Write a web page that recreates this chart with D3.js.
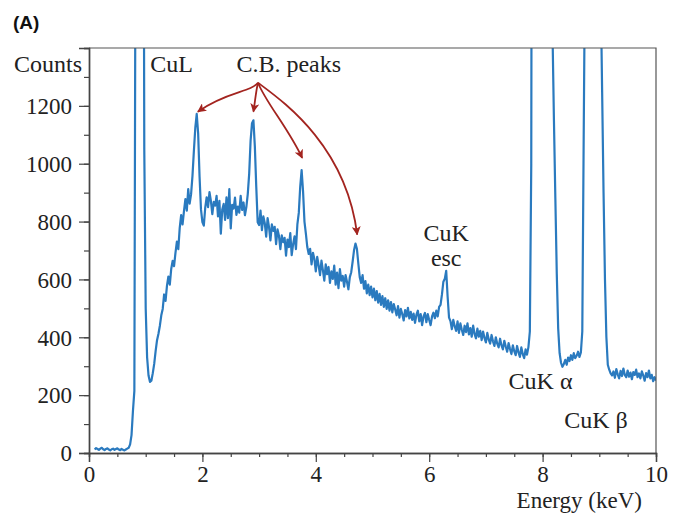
<!DOCTYPE html>
<html>
<head>
<meta charset="utf-8">
<script src="https://cdn.jsdelivr.net/npm/d3@7"></script>
<style>
  html, body { margin: 0; padding: 0; background: #fff; }
  svg { display: block; }
  .serif { font-family: "Liberation Serif", "Times New Roman", serif; fill: #222; }
</style>
</head>
<body>
<svg id="chart" width="677" height="514"></svg>
<script>
// EDS spectrum: counts per 0.025 keV channel, first channel at 0.1 keV
const channelStart = 0.1;
const channelWidth = 0.025;
const counts = [
  12, 17, 14, 11, 15, 18, 13, 10,          // 0.100
  14, 16, 12, 9, 13, 15, 11, 14,           // 0.300
  16, 12, 10, 14, 11, 9, 12, 15,           // 0.500
  18, 30, 62, 145, 215, 2200, 5600, 7200,  // 0.700
  7600, 6800, 3200, 1050, 500, 330, 268, 246, // 0.900
  250, 276, 308, 352, 390, 412, 440, 476,  // 1.100
  498, 548, 526, 578, 610, 582, 636, 664,  // 1.300
  646, 692, 731, 705, 778, 822, 790, 836,  // 1.500
  878, 838, 912, 862, 894, 958, 1045, 1125, // 1.700
  1172, 1105, 955, 842, 798, 786, 848, 884, // 1.900
  850, 902, 871, 826, 868, 855, 889, 818,  // 2.100
  872, 758, 842, 861, 806, 884, 812, 912,  // 2.300
  776, 858, 845, 883, 823, 852, 831, 889,  // 2.500
  840, 866, 822, 850, 895, 965, 1080, 1140, // 2.700
  1150, 1060, 920, 798, 788, 838, 770, 818, // 2.900
  795, 748, 812, 781, 735, 790, 768, 782,  // 3.100
  722, 773, 751, 705, 752, 729, 744, 682,  // 3.300
  738, 712, 760, 684, 722, 749, 705, 790,  // 3.500
  830, 920, 978, 905, 800, 758, 712, 688,  // 3.700
  706, 652, 692, 671, 628, 678, 648, 615,  // 3.900
  665, 632, 596, 652, 618, 643, 588, 628,  // 4.100
  602, 648, 582, 624, 570, 636, 596, 612,  // 4.300
  575, 615, 592, 566, 608, 625, 662, 702,  // 4.500
  724, 706, 655, 608, 588, 615, 568, 594,  // 4.700
  552, 582, 546, 575, 538, 568, 528, 560,  // 4.900
  520, 550, 512, 542, 505, 535, 498, 528,  // 5.100
  492, 522, 486, 515, 496, 476, 508, 468,  // 5.300
  498, 480, 458, 494, 472, 502, 465, 488,  // 5.500
  460, 482, 450, 478, 492, 455, 480, 442,  // 5.700
  472, 484, 452, 480, 460, 442, 472, 485,  // 5.900
  466, 492, 472, 505, 512, 548, 592, 602,  // 6.100
  630, 540, 468, 456, 428, 460, 438, 422,  // 6.300
  455, 415, 448, 426, 408, 440, 418, 448,  // 6.500
  410, 432, 402, 440, 412, 396, 430, 402,  // 6.700
  422, 390, 420, 398, 382, 415, 392, 378,  // 6.900
  408, 386, 370, 400, 378, 365, 395, 372,  // 7.100
  358, 388, 368, 350, 380, 360, 342, 372,  // 7.300
  352, 338, 370, 348, 332, 365, 342, 328,  // 7.500
  358, 340, 366, 420, 1000, 4200, 8200, 11500, // 7.700
  13000, 14200, 14800, 15000, 14600, 13500, 11800, 9500, // 7.900
  7000, 4600, 2600, 1450, 1150, 880, 620, 430, // 8.100
  345, 312, 298, 308, 322, 305, 330, 318,  // 8.300
  338, 322, 345, 328, 336, 350, 332, 348,  // 8.500
  420, 1100, 1750, 3200, 4600, 5400, 5600, 5300, // 8.700
  4800, 4100, 3300, 2500, 1800, 1600, 1250, 900, // 8.900
  600, 400, 305, 288, 275, 268, 282, 260,  // 9.100
  290, 272, 258, 284, 266, 292, 270, 262,  // 9.300
  285, 264, 278, 255, 280, 270, 288, 262,  // 9.500
  275, 258, 282, 268, 250, 276, 262, 285,  // 9.700
  258, 270, 248, 262, 250                  // 9.900
];

const xTicks = [0, 2, 4, 6, 8, 10];
const yTicks = [0, 200, 400, 600, 800, 1000, 1200];

// Peak labels: [text, x(keV), y(counts), anchor]
const peakLabels = [
  ["CuL", 1.08, 1317, "start"],
  ["C.B. peaks", 2.6, 1317, "start"],
  ["CuK", 6.3, 732, "middle"],
  ["esc", 6.3, 645, "middle"],
  ["CuK \u03b1", 7.4, 222, "start"],
  ["CuK \u03b2", 8.38, 87, "start"]
];

// Carbon-black peak positions (keV, counts at arrow tip)
const cbPeaks = [
  [1.92, 1180],
  [2.90, 1180],
  [3.76, 1020],
  [4.73, 755]
];

const svg = d3.select("#chart");
const margin = { left: 89, top: 48, right: 21, bottom: 61 };
const W = 677, H = 514;
const iw = W - margin.left - margin.right;
const ih = H - margin.top - margin.bottom;

const x = d3.scaleLinear().domain([0, 10]).range([margin.left, margin.left + iw]);
const y = d3.scaleLinear().domain([0, 1400]).range([margin.top + ih, margin.top]);

// panel tag
svg.append("text")
  .attr("x", 13).attr("y", 29)
  .attr("font-family", "Liberation Sans, Arial, sans-serif")
  .attr("font-weight", "bold")
  .attr("font-size", 19)
  .attr("fill", "#111")
  .text("(A)");

// clip region for the spectrum
svg.append("defs").append("clipPath").attr("id", "plotClip")
  .append("rect")
  .attr("x", margin.left).attr("y", margin.top)
  .attr("width", iw).attr("height", ih);

const spectrum = counts.map((c, i) => [channelStart + i * channelWidth, c]);

svg.append("path")
  .datum(spectrum)
  .attr("clip-path", "url(#plotClip)")
  .attr("fill", "none")
  .attr("stroke", "#2a7abf")
  .attr("stroke-width", 2.2)
  .attr("stroke-linejoin", "round")
  .attr("d", d3.line().x(d => x(d[0])).y(d => y(d[1])));

// frame: top and right edges
svg.append("path")
  .attr("fill", "none")
  .attr("stroke", "#555")
  .attr("stroke-width", 1.2)
  .attr("d", `M${x(0)},${y(1400)}H${x(10)}V${y(0)}`);

// axes
const fontSize = 24;
const tickFontSize = 23;
const xAxisMinor = d3.axisBottom(x).tickValues(d3.range(0, 10.01, 0.5)).tickSize(4).tickFormat("");
const xAxis = d3.axisBottom(x).tickValues(xTicks).tickSize(9).tickFormat(d3.format("d"));
const yAxisMinor = d3.axisLeft(y).tickValues(d3.range(0, 1401, 100)).tickSize(5).tickFormat("");
const yAxis = d3.axisLeft(y).tickValues(yTicks).tickSize(10).tickPadding(7).tickFormat(d3.format("d"));

function styleAxis(g) {
  g.select(".domain").attr("stroke", "#444").attr("stroke-width", 1.4);
  g.selectAll(".tick line").attr("stroke", "#444").attr("stroke-width", 1.2);
  g.selectAll(".tick text")
    .attr("class", "serif")
    .attr("font-family", "Liberation Serif, Times New Roman, serif")
    .attr("font-size", tickFontSize)
    .attr("fill", "#222");
}

svg.append("g").attr("transform", `translate(0,${y(0)})`).call(xAxisMinor).call(styleAxis);
svg.append("g").attr("transform", `translate(0,${y(0)})`).call(xAxis).call(styleAxis)
  .selectAll(".tick text").attr("y", 29).attr("dy", 0);
svg.append("g").attr("transform", `translate(${x(0)},0)`).call(yAxisMinor).call(styleAxis);
svg.append("g").attr("transform", `translate(${x(0)},0)`).call(yAxis).call(styleAxis)
  .selectAll(".tick text").attr("dy", "0.34em");

// axis titles
svg.append("text").attr("class", "serif")
  .attr("x", 82).attr("y", 72)
  .attr("text-anchor", "end")
  .attr("font-size", fontSize)
  .text("Counts");

svg.append("text").attr("class", "serif")
  .attr("x", 642).attr("y", 508)
  .attr("text-anchor", "end")
  .attr("font-size", 23)
  .text("Energy (keV)");

// peak labels
svg.selectAll(".peak-label")
  .data(peakLabels)
  .enter().append("text")
  .attr("class", "serif peak-label")
  .attr("x", d => x(d[1]))
  .attr("y", d => y(d[2]))
  .attr("text-anchor", d => d[3])
  .attr("font-size", fontSize)
  .text(d => d[0]);

// arrows from "C.B. peaks" to each carbon-black peak
const arrowColor = "#a3241f";
svg.select("defs").append("marker")
  .attr("id", "arrowHead")
  .attr("viewBox", "0 0 10 10")
  .attr("refX", 9).attr("refY", 5)
  .attr("markerWidth", 9).attr("markerHeight", 9)
  .attr("markerUnits", "userSpaceOnUse")
  .attr("orient", "auto")
  .append("path")
  .attr("d", "M0,0L10,5L0,10L2.5,5Z")
  .attr("fill", arrowColor);

const origin = [x(2.98), y(1280)];
// control-point offsets shape each curve
const bends = [
  [[-8, 10], [-30, 8]],
  [[-2, 8], [-3, 20]],
  [[8, 20], [30, 45]],
  [[24, 18], [88, 62]]
];
svg.selectAll(".cb-arrow")
  .data(cbPeaks)
  .enter().append("path")
  .attr("class", "cb-arrow")
  .attr("fill", "none")
  .attr("stroke", arrowColor)
  .attr("stroke-width", 1.8)
  .attr("marker-end", "url(#arrowHead)")
  .attr("d", (d, i) => {
    const tx = x(d[0]), ty = y(d[1]);
    const b = bends[i];
    const c1 = [origin[0] + b[0][0], origin[1] + b[0][1]];
    const c2 = [origin[0] + b[1][0], origin[1] + b[1][1]];
    return `M${origin[0]},${origin[1]}C${c1[0]},${c1[1]} ${c2[0]},${c2[1]} ${tx},${ty}`;
  });
</script>
</body>
</html>
